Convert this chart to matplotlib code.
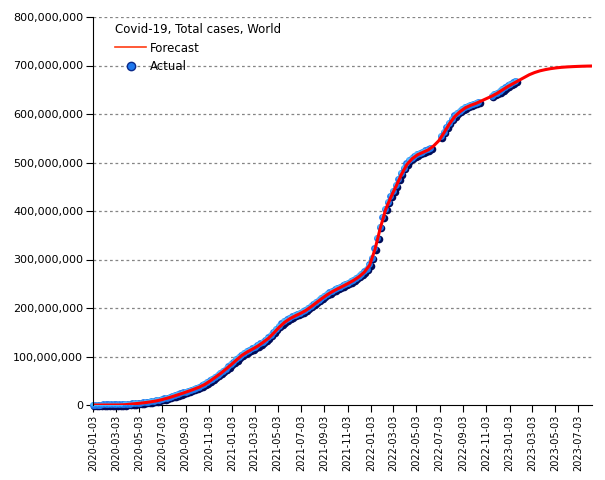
import numpy as np
import pandas as pd
import matplotlib
matplotlib.use("Agg")
import matplotlib.pyplot as plt
from matplotlib.lines import Line2D
from matplotlib.ticker import FuncFormatter
from matplotlib.transforms import offset_copy

# weekly actual total cases (millions), first week 2020-01-03, nan = no report
actual_start = "2020-01-03"
actual_millions = [
    0, 0, 0, 0, 0.01, 0.03, 0.05, 0.08, 0.09, 0.1,
    0.15, 0.27, 0.59, 1.1, 1.7, 2.2, 2.8, 3.3, 3.9, 4.5,
    5.2, 6.0, 6.8, 7.7, 8.7, 9.9, 11.2, 12.6, 14.2, 15.9,
    17.6, 19.3, 21.2, 23.0, 24.8, 26.6, 28.7, 30.7, 32.7, 34.8,
    37.0, 39.5, 42.4, 45.8, 49.5, 53.3, 57.3, 61.3, 65.3, 69.7,
    74.2, 78.7, 83.5, 88.6, 93.4, 98.5, 103.0, 106.8, 109.8, 112.8,
    115.8, 118.8, 122.2, 125.8, 129.8, 133.8, 138.2, 143.5, 149.6, 155.8,
    161.8, 167.2, 171.8, 175.6, 178.8, 181.8, 184.5, 187.0, 189.5, 192.3,
    195.6, 199.2, 203.2, 207.4, 211.8, 216.0, 220.0, 224.0, 227.8, 231.3,
    234.5, 237.4, 240.2, 242.9, 245.5, 248.3, 251.2, 254.2, 257.4, 261.0,
    265.0, 269.5, 274.5, 280.0, 289.0, 303, 322, 344, 366, 387,
    404, 418, 430, 441, 452, 465, 477, 488, 497, 504,
    509, 513, 516, 519, 521, 524, 526, 529, np.nan, np.nan,
    np.nan, 553, 562, 572, 581, 589, 596, 601, 605, 610,
    613, 616, 618, 620, 622, 624, np.nan, np.nan, np.nan, np.nan,
    637, 640, 643, 646, 650, 654, 658, 661, 664, 667,
]

# forecast every two weeks (millions), first point 2020-01-03
forecast_start = "2020-01-03"
forecast_millions = [
    0, 0, 0.01, 0.05, 0.09, 0.15, 0.6, 1.7, 2.8, 3.9,
    5.2, 6.8, 8.7, 11.2, 14.2, 17.6, 21.2, 24.8, 28.7, 32.7,
    37.0, 42.4, 49.5, 57.3, 65.3, 74.2, 83.5, 93.2, 102.5, 109.5,
    115.5, 121.8, 129.5, 137.8, 148.8, 160.5, 170.5, 178.0, 183.8, 189.0,
    195.0, 202.8, 211.2, 219.5, 227.3, 234.0, 239.8, 245.2, 251.0, 257.2,
    264.5, 274.0, 288.5, 321, 365, 403, 429, 452, 476, 496,
    508, 516, 521, 526, 534, 545, 562, 580, 595, 605,
    613, 618, 622, 627, 632, 637, 643, 650, 657, 663,
    669, 675, 681, 685.5, 689, 691.5, 693.5, 695, 696.2, 697,
    697.6, 698.1, 698.5, 698.8, 699,
]

title = "Covid-19, Total cases, World"
y_ticks = [0, 100e6, 200e6, 300e6, 400e6, 500e6, 600e6, 700e6, 800e6]

actual_dates = pd.date_range(actual_start, periods=len(actual_millions), freq="7D")
forecast_dates = pd.date_range(forecast_start, periods=len(forecast_millions), freq="14D")
actual = np.array(actual_millions) * 1e6
forecast = np.array(forecast_millions) * 1e6
ok = ~np.isnan(actual)

tick_dates = pd.date_range("2020-01-01", "2023-07-01", freq="2MS") + pd.Timedelta(days=2)

fig = plt.figure(figsize=(6.05, 4.8), dpi=100)
ax = fig.add_axes([93 / 605, 1 - 405 / 480, (592 - 93) / 605, (405 - 17) / 480])

for y in y_ticks[1:]:
    ax.axhline(y, color="#858585", lw=0.9, ls=(0, (2.2, 2.2)), zorder=1)

# sphere-ish markers: dark shadow, blue body, light highlight
tr_dark = offset_copy(ax.transData, fig=fig, x=0.9, y=-0.9, units="dots")
tr_body = offset_copy(ax.transData, fig=fig, x=-0.5, y=0.5, units="dots")
tr_hi = offset_copy(ax.transData, fig=fig, x=-1.3, y=1.3, units="dots")
ax.scatter(actual_dates[ok], actual[ok], s=30, c="#000c58", linewidths=0,
           transform=tr_dark, zorder=3, clip_on=False)
ax.scatter(actual_dates[ok], actual[ok], s=24, c="#1f78ee", linewidths=0,
           transform=tr_body, zorder=4, clip_on=False)
ax.scatter(actual_dates[ok], actual[ok], s=8, c="#4cb6ff", linewidths=0,
           transform=tr_hi, zorder=5, clip_on=False)

ax.plot(forecast_dates, forecast, color="#ff0000", lw=2.2, zorder=6)

ax.set_xlim(pd.Timestamp("2020-01-03"), pd.Timestamp("2023-08-08"))
ax.set_ylim(0, 800e6)
ax.set_yticks(y_ticks)
ax.yaxis.set_major_formatter(FuncFormatter(lambda v, p: f"{int(v):,}"))
ax.set_xticks(tick_dates)
ax.set_xticklabels([d.strftime("%Y-%m-%d") for d in tick_dates], rotation=90)

ax.spines["top"].set_visible(False)
ax.spines["right"].set_visible(False)
ax.spines["left"].set_color("black")
ax.spines["bottom"].set_color("black")
ax.spines["left"].set_zorder(7)
ax.spines["bottom"].set_zorder(2)
ax.tick_params(axis="y", direction="out", length=5, labelsize=8, pad=2)
ax.tick_params(axis="x", direction="out", length=5, labelsize=7, pad=2)

handles = [
    Line2D([], [], color="#ff3c14", lw=1.2),
    Line2D([], [], ls="none", marker="o", markersize=6,
           markerfacecolor="#1f78ee", markeredgecolor="#0a2a8a"),
]
leg = ax.legend(handles, ["Forecast", "Actual"], title=title, loc="upper left",
                bbox_to_anchor=(0.035, 0.996), frameon=False, fontsize=8.5,
                title_fontsize=8.5, alignment="left", handlelength=2.6,
                handletextpad=0.35, labelspacing=0.45, borderaxespad=0)

fig.savefig("out.png", dpi=100)
